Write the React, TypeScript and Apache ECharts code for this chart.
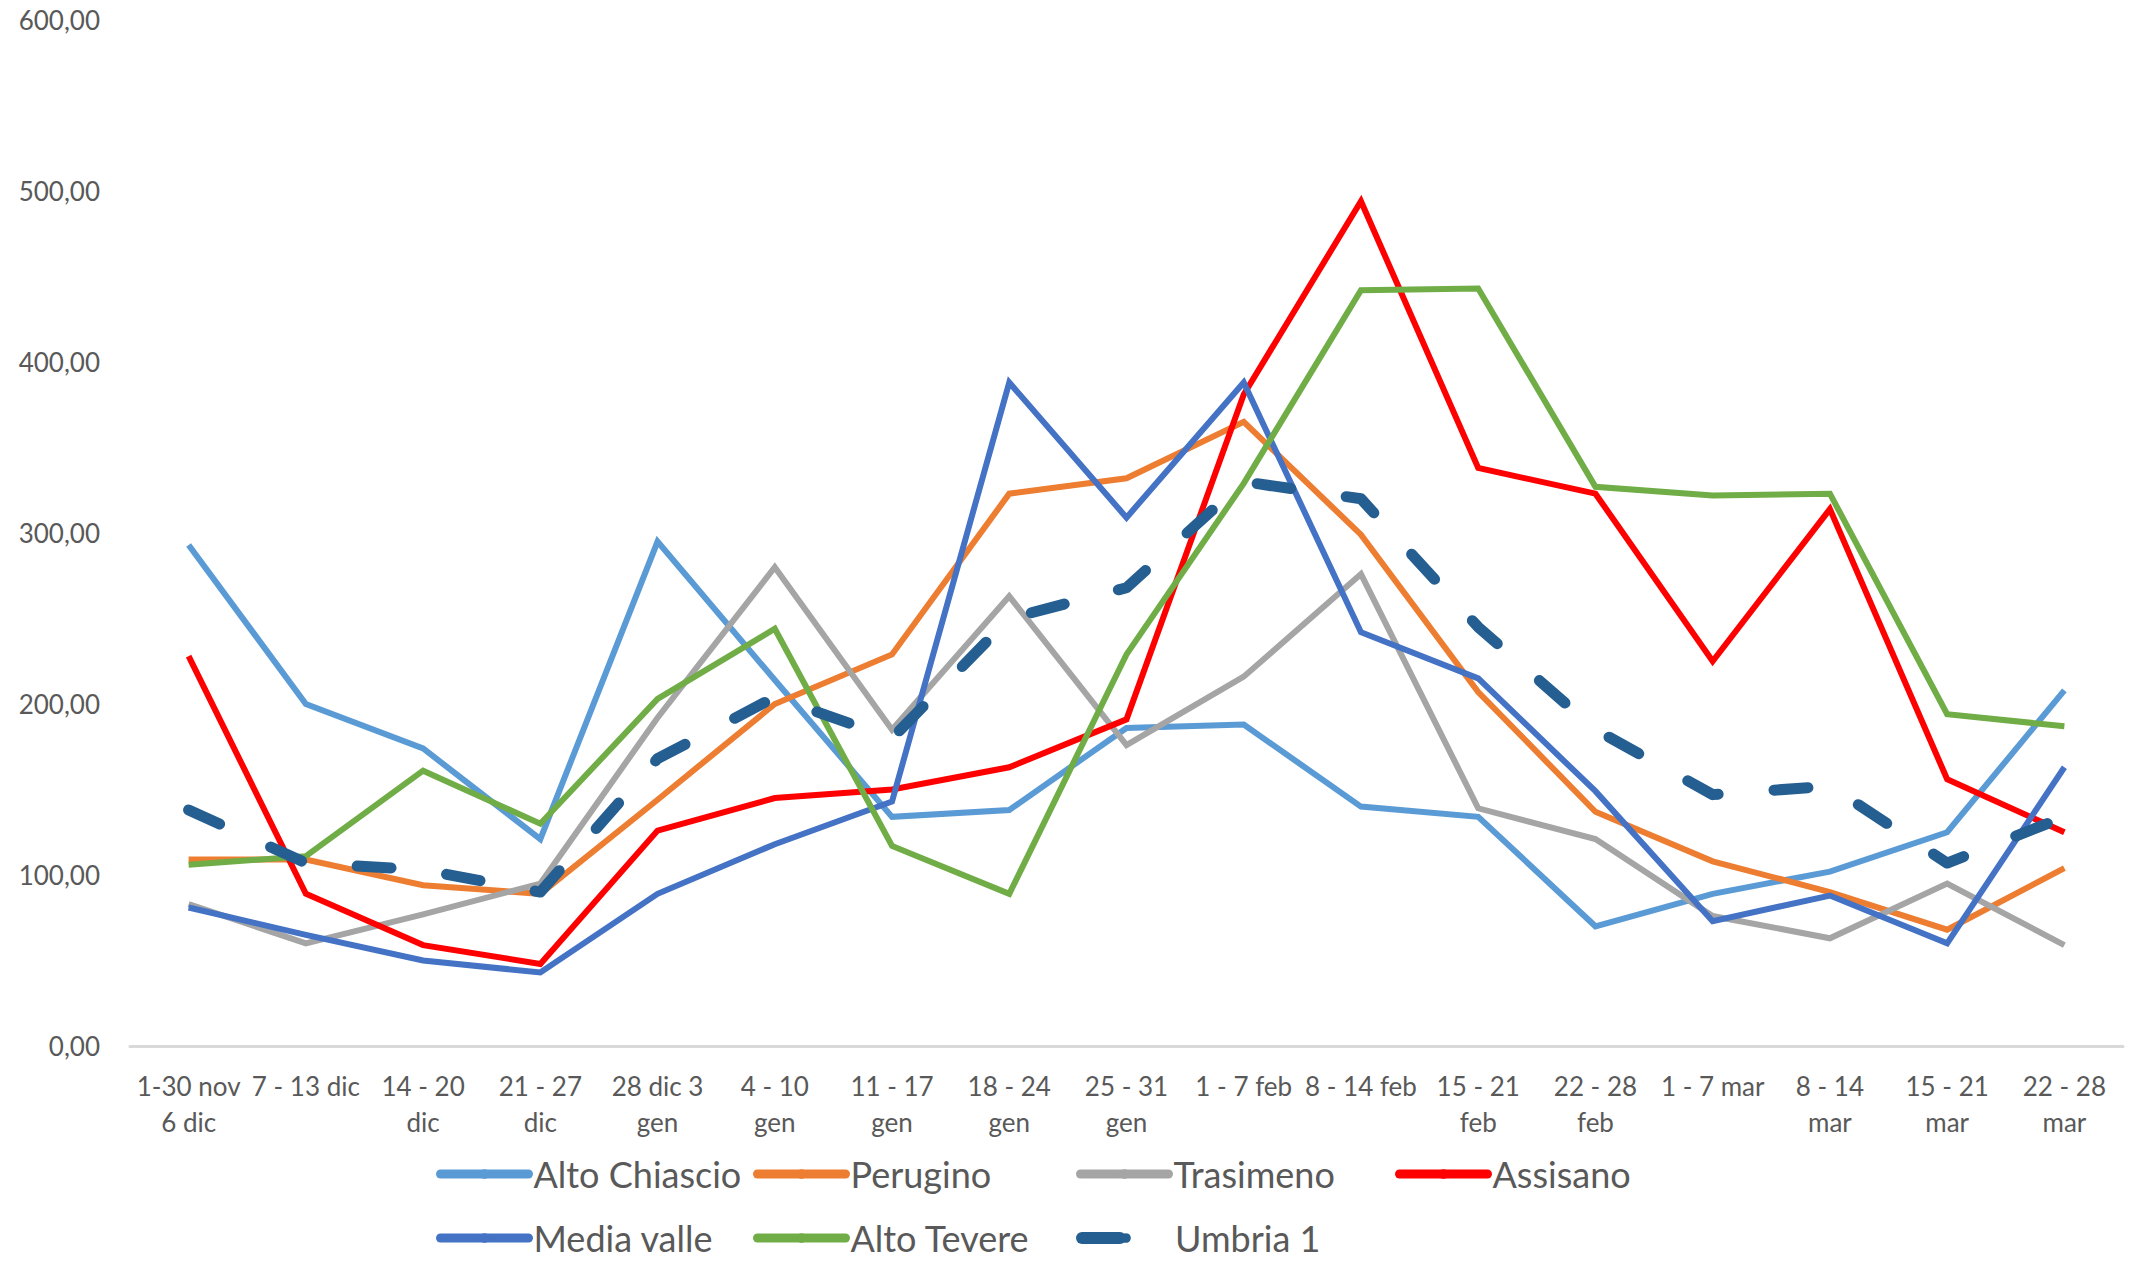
import React, { useEffect, useRef } from "react";
import * as echarts from "echarts";

const categories = [
  "1-30 nov\n6 dic",
  "7 - 13 dic",
  "14 - 20\ndic",
  "21 - 27\ndic",
  "28 dic 3\ngen",
  "4 - 10\ngen",
  "11 - 17\ngen",
  "18 - 24\ngen",
  "25 - 31\ngen",
  "1 - 7 feb",
  "8 - 14 feb",
  "15 - 21\nfeb",
  "22 - 28\nfeb",
  "1 - 7 mar",
  "8 - 14\nmar",
  "15 - 21\nmar",
  "22 - 28\nmar",
];

const altoChiascio = [293, 200, 174, 121, 295, 214, 134, 138, 186, 188, 140, 134, 70, 89, 102, 125, 208];
const perugino = [109, 109, 94, 89, 144, 200, 229, 323, 332, 365, 299, 207, 137, 108, 90, 68, 104];
const trasimeno = [83, 60, 77, 95, 192, 280, 185, 263, 176, 216, 276, 139, 121, 76, 63, 95, 59];
const assisano = [228, 89, 59, 48, 126, 145, 150, 163, 191, 381, 494, 338, 323, 225, 314, 156, 125];
const mediaValle = [81, 65, 50, 43, 89, 118, 143, 388, 309, 388, 242, 215, 149, 73, 88, 60, 163];
const altoTevere = [106, 111, 161, 130, 203, 244, 117, 89, 229, 329, 442, 443, 327, 322, 323, 194, 187];
const umbria1 = [138, 107, 103, 90, 168, 204, 180, 250, 268, 330, 320, 245, 185, 147, 152, 107, 134];

const seriesNames = ["Alto Chiascio", "Perugino", "Trasimeno", "Assisano", "Media valle", "Alto Tevere", "Umbria 1"];
const seriesData = [altoChiascio, perugino, trasimeno, assisano, mediaValle, altoTevere, umbria1];
const seriesColors = ["#5B9BD5", "#ED7D31", "#A5A5A5", "#FF0000", "#4472C4", "#70AD47", "#255E91"];

const yMin = 0;
const yMax = 600;
const yStep = 100;

const FONT = "Lato, 'Open Sans', sans-serif";
const TEXT_COLOR = "#595959";

// legend grid placement (column left, row top)
const legendPos = [
  [436, 1156],
  [753, 1156],
  [1076, 1156],
  [1395, 1156],
  [436, 1220],
  [753, 1220],
  [1076, 1220],
];

export default function App() {
  const ref = useRef<HTMLDivElement>(null);

  useEffect(() => {
    if (!ref.current) return;
    const chart = echarts.init(ref.current, undefined, { renderer: "svg" });

    const series = seriesNames.map((name, i) => {
      const dashed = name === "Umbria 1";
      return {
        name,
        type: "line",
        data: seriesData[i],
        symbol: "none",
        showSymbol: false,
        color: seriesColors[i],
        lineStyle: dashed
          ? { color: seriesColors[i], width: 11, type: [34, 56], cap: "round", join: "round" }
          : { color: seriesColors[i], width: 6, join: "miter" },
        emphasis: { disabled: true },
      };
    });

    const legends = seriesNames.map((name, i) => ({
      data: [name],
      left: legendPos[i][0],
      top: legendPos[i][1],
      padding: 0,
      itemWidth: 88,
      itemHeight: 12,
      selectedMode: false,
      lineStyle:
        name === "Umbria 1"
          ? { width: 12, cap: "round", type: [38, 200] }
          : { width: 9, cap: "round", type: "solid" },
      textStyle: { fontFamily: FONT, fontSize: 36, color: TEXT_COLOR, lineHeight: 36 },
    }));

    chart.setOption({
      animation: false,
      backgroundColor: "#ffffff",
      grid: { left: 130, right: 13, top: 20, bottom: 218, containLabel: false },
      legend: legends,
      xAxis: {
        type: "category",
        data: categories,
        boundaryGap: true,
        axisLine: { show: true, lineStyle: { color: "#D9D9D9", width: 3 } },
        axisTick: { show: false },
        splitLine: { show: false },
        axisLabel: {
          interval: 0,
          margin: 22,
          fontFamily: FONT,
          fontSize: 26,
          lineHeight: 36,
          color: TEXT_COLOR,
        },
      },
      yAxis: {
        type: "value",
        min: yMin,
        max: yMax,
        interval: yStep,
        axisLine: { show: false },
        axisTick: { show: false },
        splitLine: { show: false },
        axisLabel: {
          margin: 30,
          fontFamily: FONT,
          fontSize: 26,
          color: TEXT_COLOR,
          formatter: (v: number) => v.toFixed(2).replace(".", ","),
        },
      },
      series,
    });

    return () => chart.dispose();
  }, []);

  return (
    <div
      ref={ref}
      style={{ position: "fixed", left: 0, top: 0, width: 2136, height: 1264, background: "#fff" }}
    />
  );
}
